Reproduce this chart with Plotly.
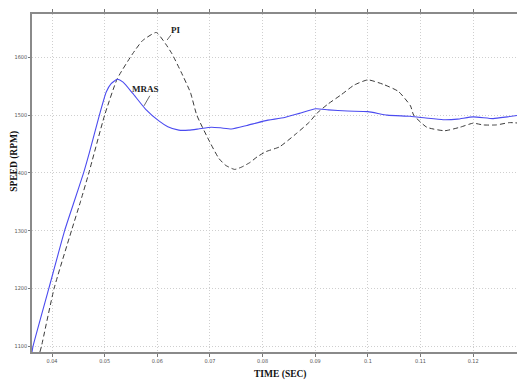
import plotly.graph_objects as go

# MRAS response (blue, solid)
mras_t = [0.0362, 0.0364, 0.0394, 0.0424, 0.0442, 0.0460, 0.0471, 0.0490, 0.0503, 0.0512,
          0.0524, 0.0535, 0.0553, 0.0578, 0.0603, 0.0620, 0.0641, 0.0660, 0.0678, 0.0703,
          0.0720, 0.0741, 0.0770, 0.0804, 0.0842, 0.0870, 0.0901, 0.0925, 0.0961, 0.1000,
          0.1037, 0.1080, 0.1110, 0.1143, 0.1170, 0.1200, 0.1238, 0.1265, 0.1289]
mras_speed = [1090, 1100, 1200, 1300, 1350, 1400, 1435, 1500, 1540, 1554,
              1562, 1557, 1538, 1510, 1490, 1480, 1474, 1474, 1476, 1479,
              1478, 1476, 1482, 1490, 1496, 1503, 1511, 1509, 1507, 1506,
              1500, 1498, 1495, 1492, 1493, 1497, 1494, 1497, 1500]

# PI response (black, dashed)
pi_t = [0.0377, 0.0380, 0.0404, 0.0437, 0.0454, 0.0470, 0.0500, 0.0524, 0.0553, 0.0572,
        0.0598, 0.0616, 0.0628, 0.0645, 0.0663, 0.0675, 0.0700, 0.0717, 0.0730, 0.0747,
        0.0760, 0.0776, 0.0790, 0.0807, 0.0832, 0.0864, 0.0889, 0.0903, 0.0924, 0.0949,
        0.0974, 0.1000, 0.1030, 0.1058, 0.1081, 0.1087, 0.1112, 0.1146, 0.1175, 0.1200,
        0.1219, 0.1244, 0.1269, 0.1289]
pi_speed = [1090, 1100, 1200, 1300, 1350, 1400, 1500, 1563, 1606, 1629,
            1643, 1623, 1606, 1575, 1539, 1500, 1453, 1425, 1413, 1406,
            1410, 1418, 1428, 1437, 1445, 1468, 1488, 1503, 1519, 1535,
            1552, 1561, 1553, 1541, 1516, 1500, 1479, 1473, 1479, 1486,
            1483, 1483, 1487, 1486]

x_ticks = [0.04, 0.05, 0.06, 0.07, 0.08, 0.09, 0.10, 0.11, 0.12]
x_tick_labels = ["0.04", "0.05", "0.06", "0.07", "0.08", "0.09", "0.1", "0.11", "0.12"]
y_ticks = [1100, 1200, 1300, 1400, 1500, 1600]
y_tick_labels = ["1100", "1200", "1300", "1400", "1500", "1600"]

# label anchor points on curves
mras_label_pt = (0.05747, 1516)
pi_label_pt = (0.06187, 1630)

fig = go.Figure()
fig.add_trace(go.Scatter(x=pi_t, y=pi_speed, mode="lines", name="PI",
                         line=dict(color="#3a3a3a", width=1, dash="5px,3px", shape="spline", smoothing=0.5)))
fig.add_trace(go.Scatter(x=mras_t, y=mras_speed, mode="lines", name="MRAS",
                         line=dict(color="#4b4bf0", width=1.1, shape="spline", smoothing=0.5)))

serif = "Liberation Serif"
tick_font = dict(family="Liberation Sans Narrow, DejaVu Sans Condensed, Liberation Sans", size=5.5, color="#555")
# page body has an 8px margin, so the figure is 8px smaller and left/top margins are reduced
fig.update_layout(
    width=517, height=375,
    margin=dict(l=24, r=1, t=2, b=31),
    paper_bgcolor="white", plot_bgcolor="white",
    showlegend=False,
    xaxis=dict(range=[0.0362, 0.1289], tickvals=x_ticks, ticktext=x_tick_labels,
               showgrid=True, gridcolor="#cfcfcf", griddash="1px,2px", gridwidth=1,
               showline=True, linecolor="#8a8a8a", linewidth=1.5, mirror="allticks",
               ticks="outside", ticklen=3, tickcolor="#777",
               tickfont=tick_font, zeroline=False),
    yaxis=dict(range=[1090, 1675], tickvals=y_ticks, ticktext=y_tick_labels,
               showgrid=True, gridcolor="#cfcfcf", griddash="1px,2px", gridwidth=1,
               showline=True, linecolor="#8a8a8a", linewidth=1.5, mirror="allticks",
               ticks="outside", ticklen=2, tickcolor="#777",
               tickfont=tick_font, zeroline=False),
)

annotations = [
    dict(text="<b>SPEED (RPM)</b>", xref="paper", yref="paper", x=-0.036, y=0.564,
         textangle=-90, showarrow=False, font=dict(family=serif, size=9.5, color="#111"),
         xanchor="center", yanchor="middle"),
    dict(text="<b>TIME (SEC)</b>", xref="paper", yref="paper", x=0.510, y=-0.067,
         showarrow=False, font=dict(family=serif, size=9.5, color="#111"),
         xanchor="center", yanchor="middle"),
    # MRAS label
    dict(text="<b>MRAS</b>", x=mras_label_pt[0], y=mras_label_pt[1], xref="x", yref="y",
         showarrow=False, xshift=1.7, yshift=17, font=dict(family=serif, size=9, color="#222")),
    dict(text="", x=mras_label_pt[0], y=mras_label_pt[1], xref="x", yref="y",
         ax=6.7, ay=-11.6, showarrow=True, arrowhead=0, arrowwidth=0.8, arrowcolor="#444",
         standoff=0, startstandoff=0),
    # PI label
    dict(text="<b>PI</b>", x=pi_label_pt[0], y=pi_label_pt[1], xref="x", yref="y",
         showarrow=False, xshift=8.4, yshift=10, font=dict(family=serif, size=9, color="#222")),
    dict(text="", x=pi_label_pt[0], y=pi_label_pt[1], xref="x", yref="y",
         ax=5, ay=-6.7, showarrow=True, arrowhead=0, arrowwidth=0.8, arrowcolor="#444",
         standoff=0, startstandoff=0),
]
fig.update_layout(annotations=annotations)

fig.write_html("out.html")
